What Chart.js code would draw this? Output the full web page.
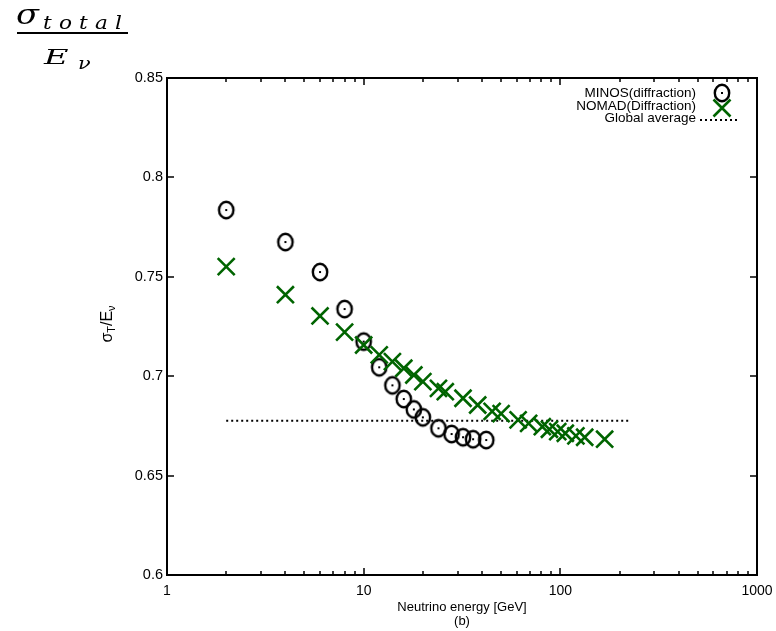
<!DOCTYPE html>
<html>
<head>
<meta charset="utf-8">
<script src="https://cdn.jsdelivr.net/npm/chart.js@4.4.1/dist/chart.umd.min.js"></script>
<style>
  html, body { margin: 0; padding: 0; background: #fff; }
  #wrap { width: 776px; height: 631px; }
</style>
</head>
<body>
<div id="wrap"><canvas id="sigmaChart" width="776" height="631"></canvas></div>
<script>
// sigma_T / E_nu versus neutrino energy
const minosEnergy = [2, 4, 6, 8, 10, 12, 14, 16, 18, 20, 24, 28, 32, 36, 42];
const minosRatio = [0.7836, 0.7675, 0.7524, 0.7338, 0.7174, 0.7045, 0.6954, 0.6885, 0.6833, 0.6793, 0.6738, 0.6709, 0.6693, 0.6683, 0.6679];

const nomadEnergy = [2, 4, 6, 8, 10, 12, 14, 16, 18, 20, 24, 26, 32, 38, 45, 50, 61, 69, 81, 88, 97, 106, 120, 133, 168];
const nomadRatio = [0.7551, 0.7410, 0.7303, 0.7222, 0.7157, 0.7107, 0.7073, 0.7040, 0.7006, 0.6973, 0.6939, 0.6922, 0.6889, 0.6855, 0.6823, 0.6812, 0.6780, 0.6763, 0.6746, 0.6733, 0.6721, 0.6713, 0.6700, 0.6693, 0.6683];

const avgEnergy = [2, 225];
const avgRatio = [0.6776, 0.6776];

const xTickValues = [1, 10, 100, 1000];
const yTickValues = [0.6, 0.65, 0.7, 0.75, 0.8, 0.85];
const yTickLabels = ["0.6", "0.65", "0.7", "0.75", "0.8", "0.85"];
const seriesNames = ["MINOS(diffraction)", "NOMAD(Diffraction)", "Global average"];

const SANS = "'Liberation Sans', Arial, sans-serif";
const SERIF = "'DejaVu Serif', 'Liberation Serif', serif";
const GREEN = "#006400";

function toPoints(xs, ys) {
  return xs.map((x, i) => ({ x: x, y: ys[i] }));
}

// open circle with a dot in the middle
function makeCirclePoint() {
  const c = document.createElement("canvas");
  c.width = 22;
  c.height = 24;
  const g = c.getContext("2d");
  g.strokeStyle = "#000";
  g.lineWidth = 2.4;
  g.beginPath();
  g.ellipse(11, 12, 7.2, 8.2, 0, 0, Math.PI * 2);
  g.stroke();
  g.fillStyle = "#000";
  g.fillRect(10, 11, 2, 2);
  return c;
}
const circlePoint = makeCirclePoint();

function stretchedText(ctx, text, font, x, y, sx, spacing) {
  ctx.save();
  ctx.translate(x, y);
  ctx.scale(sx, 1);
  ctx.font = font;
  ctx.letterSpacing = spacing || "0px";
  ctx.fillText(text, 0, 0);
  ctx.restore();
}

const framePlugin = {
  id: "frame",
  afterDraw(chart) {
    const ctx = chart.ctx;
    const a = chart.chartArea;
    const xs = chart.scales.x;
    const ys = chart.scales.y;

    ctx.save();
    ctx.strokeStyle = "#000";
    ctx.lineWidth = 1.5;

    // inward ticks on all four sides
    ctx.beginPath();
    for (let d = 1; d < 1000; d *= 10) {
      for (let m = 1; m <= 10; m++) {
        const px = Math.round(xs.getPixelForValue(d * m));
        const len = (m === 1 || m === 10) ? 7 : 4;
        ctx.moveTo(px, a.bottom);
        ctx.lineTo(px, a.bottom - len);
        ctx.moveTo(px, a.top);
        ctx.lineTo(px, a.top + len);
      }
    }
    yTickValues.forEach(v => {
      const py = Math.round(ys.getPixelForValue(v));
      ctx.moveTo(a.left, py);
      ctx.lineTo(a.left + 7, py);
      ctx.moveTo(a.right, py);
      ctx.lineTo(a.right - 7, py);
    });
    ctx.stroke();

    ctx.lineWidth = 2;
    ctx.strokeRect(a.left, a.top, a.right - a.left, a.bottom - a.top);

    // key, top right inside the frame
    const textRight = 696;
    const rows = [93, 106, 118];
    ctx.fillStyle = "#000";
    ctx.font = "13.5px " + SANS;
    ctx.textAlign = "right";
    ctx.textBaseline = "middle";
    seriesNames.forEach((name, i) => ctx.fillText(name, textRight, rows[i]));

    ctx.drawImage(circlePoint, 722 - 11, rows[0] - 12);

    ctx.strokeStyle = GREEN;
    ctx.lineWidth = 2.6;
    ctx.beginPath();
    ctx.moveTo(722 - 8.5, rows[1] + 2 - 8.5);
    ctx.lineTo(722 + 8.5, rows[1] + 2 + 8.5);
    ctx.moveTo(722 + 8.5, rows[1] + 2 - 8.5);
    ctx.lineTo(722 - 8.5, rows[1] + 2 + 8.5);
    ctx.stroke();

    ctx.strokeStyle = "#000";
    ctx.lineWidth = 2;
    ctx.setLineDash([2, 3]);
    ctx.beginPath();
    ctx.moveTo(700, rows[2] + 2);
    ctx.lineTo(738, rows[2] + 2);
    ctx.stroke();
    ctx.setLineDash([]);

    // y axis title: sigma_T / E_nu
    ctx.translate(107, 324);
    ctx.rotate(-Math.PI / 2);
    ctx.textAlign = "left";
    ctx.textBaseline = "alphabetic";
    const parts = [
      { t: "\u03c3", size: 16, dy: 0 },
      { t: "T", size: 11, dy: 3 },
      { t: "/E", size: 16, dy: 0 },
      { t: "\u03bd", size: 11, dy: 3 }
    ];
    let total = 0;
    parts.forEach(p => {
      ctx.font = p.size + "px " + SANS;
      p.w = ctx.measureText(p.t).width;
      total += p.w;
    });
    let cx = -total / 2;
    parts.forEach(p => {
      ctx.font = p.size + "px " + SANS;
      ctx.fillText(p.t, cx, 5 + p.dy);
      cx += p.w;
    });
    ctx.restore();

    // big fraction in the corner
    ctx.save();
    ctx.fillStyle = "#000";
    ctx.textAlign = "left";
    ctx.textBaseline = "alphabetic";
    stretchedText(ctx, "\u03c3", "italic 28px " + SERIF, 16, 24, 1.2);
    stretchedText(ctx, "total", "italic 18px " + SERIF, 43, 29, 1.2, "6px");
    stretchedText(ctx, "E", "italic 21px " + SERIF, 44, 64, 1.6);
    stretchedText(ctx, "\u03bd", "italic 16px " + SERIF, 78, 69, 1.3);
    ctx.fillRect(17, 32, 111, 2);
    ctx.restore();
  }
};

new Chart(document.getElementById("sigmaChart"), {
  type: "scatter",
  data: {
    datasets: [
      {
        label: seriesNames[1],
        data: toPoints(nomadEnergy, nomadRatio),
        pointStyle: "crossRot",
        pointRadius: 12,
        borderColor: GREEN,
        backgroundColor: GREEN,
        pointBorderWidth: 2.6
      },
      {
        label: seriesNames[0],
        data: toPoints(minosEnergy, minosRatio),
        pointStyle: circlePoint,
        pointRadius: 8
      },
      {
        label: seriesNames[2],
        type: "line",
        data: toPoints(avgEnergy, avgRatio),
        showLine: true,
        borderColor: "#000",
        borderWidth: 2,
        borderDash: [2, 3],
        pointRadius: 0,
        fill: false
      }
    ]
  },
  options: {
    responsive: false,
    animation: false,
    devicePixelRatio: 1,
    layout: { padding: { top: 78, right: 19, left: 0, bottom: 0 } },
    plugins: {
      legend: { display: false },
      tooltip: { enabled: false }
    },
    scales: {
      x: {
        type: "logarithmic",
        min: 1,
        max: 1000,
        afterBuildTicks: s => { s.ticks = xTickValues.map(v => ({ value: v })); },
        afterFit: s => { s.height = 56; s.paddingLeft = 0; s.paddingRight = 0; },
        grid: { display: false, drawTicks: false },
        border: { display: false },
        ticks: {
          color: "#000",
          font: { family: SANS, size: 14 },
          padding: 8,
          maxRotation: 0,
          autoSkip: false,
          callback: v => String(v)
        },
        title: {
          display: true,
          text: ["Neutrino energy [GeV]", "(b)"],
          color: "#000",
          font: { family: SANS, size: 13, lineHeight: 1.1 },
          padding: { top: 0, bottom: 2 }
        }
      },
      y: {
        type: "linear",
        min: 0.6,
        max: 0.85,
        afterBuildTicks: s => { s.ticks = yTickValues.map(v => ({ value: v })); },
        afterFit: s => { s.width = 167; s.paddingTop = 0; s.paddingBottom = 0; },
        grid: { display: false, drawTicks: false },
        border: { display: false },
        ticks: {
          color: "#000",
          font: { family: SANS, size: 14.5 },
          padding: 4,
          autoSkip: false,
          callback: (v, i) => yTickLabels[i]
        }
      }
    }
  },
  plugins: [framePlugin]
});
</script>
</body>
</html>
